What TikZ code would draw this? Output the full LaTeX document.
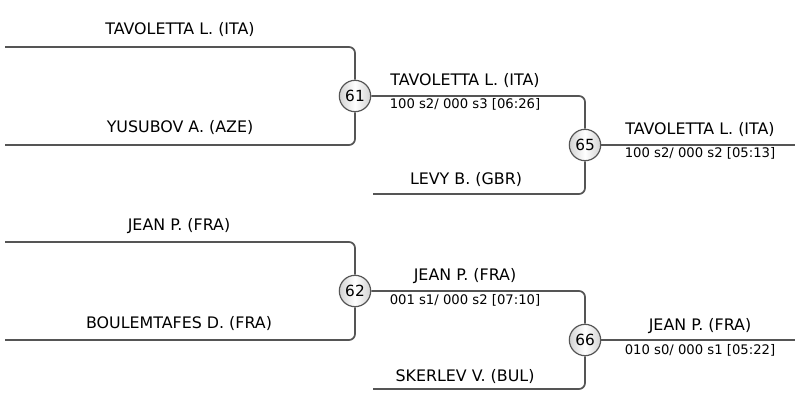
\documentclass[tikz,border=0pt]{standalone}
\usepackage{fontspec}
\setmainfont{DejaVu Sans}
\usepackage{xcolor,tikz}
\usetikzlibrary{positioning}
\definecolor{wiregray}{HTML}{555555}

\begin{document}
\begin{tikzpicture}[x=0.75pt,y=-0.75pt,
  wire/.style={draw=wiregray,line width=1.3pt,rounded corners=4.5pt},
  bout/.style={circle,draw=wiregray,line width=0.9pt,minimum size=23.5pt,inner sep=0pt,
    left color=gray!35,right color=gray!35,middle color=white,font=\fontsize{11.5}{13}\selectfont},
  who/.style={font=\fontsize{11.9}{14}\selectfont,inner sep=0pt},
  score/.style={font=\fontsize{9.9}{12}\selectfont,inner sep=0pt}]
\useasboundingbox (0,0) rectangle (795,394);
% first round
\node[bout] (m61) at (355,96) {61};
\node[bout] (m62) at (355,291) {62};
\coordinate (a61) at (5,47);
\coordinate (b61) at (5,145);
\coordinate (a62) at (5,242);
\coordinate (b62) at (5,340);
\draw[wire] (a61) -| (m61);
\draw[wire] (b61) -| (m61);
\draw[wire] (a62) -| (m62);
\draw[wire] (b62) -| (m62);
\node[who] at (180,30) {TAVOLETTA L. (ITA)};
\node[who] at (180,128) {YUSUBOV A. (AZE)};
\node[who] at (179,226) {JEAN P. (FRA)};
\node[who] at (179,324) {BOULEMTAFES D. (FRA)};
% second round
\node[bout] (m65) at (585,145) {65};
\node[bout] (m66) at (585,340) {66};
\coordinate (b65) at (373,194);
\coordinate (b66) at (373,389);
\draw[wire] (m61) -| (m65);
\draw[wire] (b65) -| (m65);
\draw[wire] (m62) -| (m66);
\draw[wire] (b66) -| (m66);
\node[who] at (465,81) {TAVOLETTA L. (ITA)};
\node[score] at (465,104) {100 s2/ 000 s3 [06:26]};
\node[who] at (466,180) {LEVY B. (GBR)};
\node[who] at (465,276) {JEAN P. (FRA)};
\node[score] at (465,300) {001 s1/ 000 s2 [07:10]};
\node[who] at (465,377) {SKERLEV V. (BUL)};
% final lines
\coordinate (f65) at (795,145);
\coordinate (f66) at (795,340);
\draw[wire] (m65) -- (f65);
\draw[wire] (m66) -- (f66);
\node[who] at (700,130) {TAVOLETTA L. (ITA)};
\node[score] at (700,153) {100 s2/ 000 s2 [05:13]};
\node[who] at (700,326) {JEAN P. (FRA)};
\node[score] at (700,350) {010 s0/ 000 s1 [05:22]};
\end{tikzpicture}
\end{document}
